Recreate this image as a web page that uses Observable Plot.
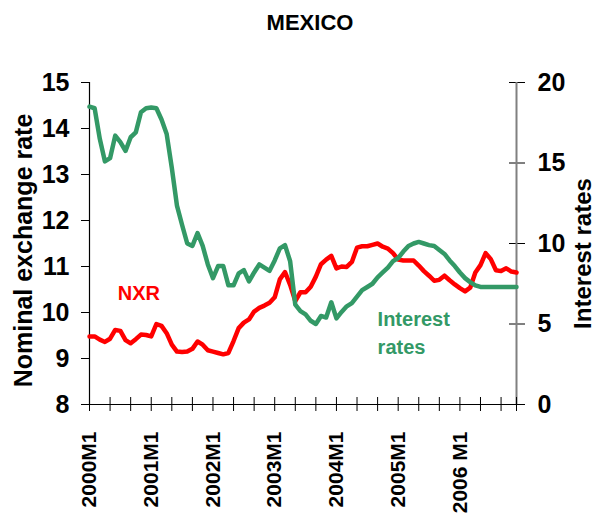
<!DOCTYPE html>
<html>
<head>
<meta charset="utf-8">
<script src="https://cdn.jsdelivr.net/npm/d3@7"></script>
<script src="https://cdn.jsdelivr.net/npm/@observablehq/plot@0.6"></script>
<style>
  html, body { margin: 0; padding: 0; background: #fff; }
  #chart svg { display: block; }
</style>
</head>
<body>
<div id="chart"></div>
<script>
// Monthly data, 2000M1 .. 2006M12 (84 months)
const months = d3.range(84).map(i => `${2000 + Math.floor(i / 12)}M${(i % 12) + 1}`);

// Nominal exchange rate (left axis, pesos per USD)
const nxr = [
  9.48, 9.48, 9.41, 9.36, 9.43, 9.62, 9.60, 9.40, 9.33, 9.42, 9.52, 9.51,
  9.48, 9.75, 9.71, 9.55, 9.30, 9.15, 9.14, 9.15, 9.21, 9.37, 9.30, 9.18,
  9.15, 9.12, 9.09, 9.12, 9.38, 9.66, 9.78, 9.85, 10.02, 10.10, 10.15, 10.21,
  10.33, 10.72, 10.88, 10.60, 10.25, 10.44, 10.44, 10.56, 10.78, 11.05, 11.15, 11.23,
  10.96, 11.00, 10.99, 11.10, 11.41, 11.44, 11.44, 11.47, 11.50, 11.43, 11.39, 11.29,
  11.15, 11.13, 11.13, 11.13, 11.02, 10.90, 10.80, 10.69, 10.71, 10.80, 10.70, 10.61,
  10.53, 10.46, 10.54, 10.87, 11.03, 11.29, 11.16, 10.92, 10.90, 10.96, 10.89, 10.87
];

// Interest rates (right axis, %)
const rates = [
  18.5, 18.4, 16.5, 15.1, 15.3, 16.7, 16.3, 15.75, 16.6, 16.9, 18.15, 18.4,
  18.45, 18.4, 17.7, 16.8, 14.7, 12.35, 11.15, 10.0, 9.85, 10.65, 9.85, 8.7,
  7.85, 8.6, 8.6, 7.4, 7.4, 8.15, 8.35, 7.65, 8.2, 8.7, 8.5, 8.3,
  8.95, 9.7, 9.9, 8.9, 6.2, 5.8, 5.6, 5.2, 5.0, 5.5, 5.4, 6.35,
  5.35, 5.75, 6.1, 6.3, 6.7, 7.1, 7.3, 7.5, 7.9, 8.2, 8.5, 8.9,
  9.1, 9.5, 9.85, 10.0, 10.1, 10.0, 9.9, 9.85, 9.6, 9.35, 8.95, 8.6,
  8.2, 7.85, 7.6, 7.4, 7.3, 7.3, 7.3, 7.3, 7.3, 7.3, 7.3, 7.3
];

const title = "MEXICO";
const leftLabel = "Nominal exchange rate";
const rightLabel = "Interest rates";
const leftTicks = [8, 9, 10, 11, 12, 13, 14, 15];
const rightTicks = [0, 5, 10, 15, 20];
const xTickMonths = [0, 12, 24, 36, 48, 60, 72];
const xTickLabels = ["2000M1", "2001M1", "2002M1", "2003M1", "2004M1", "2005M1", "2006 M1"];
const nxrLabel = {name: "NXR", month: 9.6, value: 10.41};
const rateLabel = {name: "Interest\nrates", month: 56, value: 9.6};

// right-axis value -> left-axis coordinate
const r2l = d3.scaleLinear().domain([0, 20]).range([8, 15]);

const data = months.map((m, i) => ({i, m, nxr: nxr[i], rate: rates[i]}));
const minorTicks = d3.range(0, 84, 4).concat([83]);
const labelMap = new Map(xTickMonths.map((m, k) => [m, xTickLabels[k]]));

const RED = "#ff0000", GREEN = "#339966";
const font = "Liberation Sans, Arial, Helvetica, sans-serif";

const chart = Plot.plot({
  width: 598,
  height: 525,
  marginLeft: 89,
  marginRight: 82,
  marginTop: 82,
  marginBottom: 121,
  style: {fontFamily: font, background: "#fff", color: "#000"},
  x: {domain: [0, 83]},
  y: {domain: [8, 15]},
  marks: [
    // title
    Plot.text([title], {frameAnchor: "top", dy: -60, dx: 7, fontSize: 22, fontWeight: "bold", text: d => d, lineAnchor: "middle"}),
    // axis titles
    Plot.text([leftLabel], {frameAnchor: "left", textAnchor: "middle", rotate: -90, dx: -66, dy: 7, fontSize: 25, fontWeight: "bold", text: d => d}),
    Plot.text([rightLabel], {frameAnchor: "right", textAnchor: "middle", rotate: -90, dx: 67, dy: 10, fontSize: 24, fontWeight: "bold", text: d => d}),
    // left axis
    Plot.axisY({ticks: leftTicks, tickSize: 8, tickPadding: 12, tickFormat: d => String(d), fontSize: 25, fontWeight: "bold", label: null, stroke: "#000"}),
    Plot.ruleX([0], {stroke: "#000", strokeWidth: 1.2}),
    // right axis (crossing ticks + labels)
    Plot.axisY({anchor: "right", ticks: rightTicks.map(r2l), tickSize: 16, dx: -8, tickFormat: () => "", label: null, stroke: "#000"}),
    Plot.axisY({anchor: "right", ticks: rightTicks.map(r2l), tickSize: 0, tickPadding: 21,
      tickFormat: d => String(Math.round(r2l.invert(d))), fontSize: 25, fontWeight: "bold", label: null}),
    Plot.ruleX([83], {stroke: "#808080", strokeWidth: 2}),
    // x axis
    Plot.ruleY([8], {stroke: "#000", strokeWidth: 1.2}),
    Plot.axisX({ticks: minorTicks, tickSize: 14, dy: -7, tickFormat: () => "", label: null, stroke: "#000"}),
    Plot.axisX({ticks: xTickMonths, tickSize: 0, tickPadding: 27, tickRotate: -90,
      tickFormat: d => labelMap.get(d), fontSize: 21, fontWeight: "bold", label: null}),
    // series
    Plot.line(data, {x: "i", y: "nxr", stroke: RED, strokeWidth: 4.5, strokeLinejoin: "round"}),
    Plot.line(data, {x: "i", y: d => r2l(d.rate), stroke: GREEN, strokeWidth: 4.5, strokeLinejoin: "round"}),
    // series labels
    Plot.text([nxrLabel], {x: "month", y: "value", text: "name", fill: RED, textAnchor: "middle",
      fontSize: 20, fontWeight: "bold", style: "letter-spacing:4px"}),
    Plot.text([rateLabel], {x: "month", y: "value", text: "name", fill: GREEN, textAnchor: "start",
      fontSize: 20, fontWeight: "bold", lineHeight: 1.4, style: "letter-spacing:3px"})
  ]
});

document.getElementById("chart").appendChild(chart);
</script>
</body>
</html>
